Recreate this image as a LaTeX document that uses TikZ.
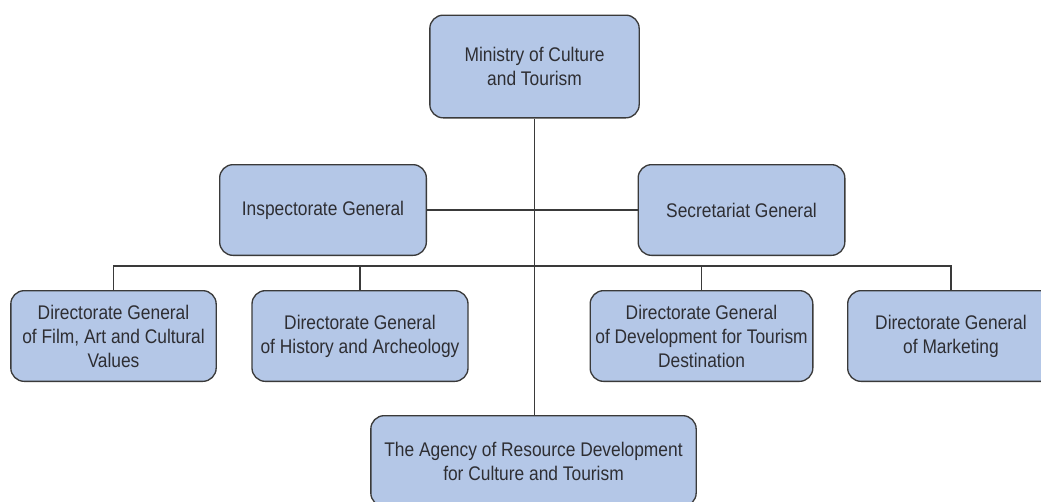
\documentclass[tikz,border=0pt]{standalone}
\usepackage{fontspec}
\setsansfont{Liberation Sans}[FakeStretch=0.88]
\usepackage{tikz}
\usetikzlibrary{positioning,calc}
\definecolor{boxfill}{HTML}{B4C7E7}
\definecolor{edge}{HTML}{3A3A3A}
\definecolor{ink}{HTML}{2E2E33}
\tikzset{
  font=\sffamily\fontsize{14.8}{18}\selectfont,
  unit/.style={
    rounded corners=10pt, draw=edge, line width=1pt, fill=boxfill,
    text=ink, align=center, inner sep=3pt
  },
  link/.style={draw=edge, line width=0.9pt}
}

\begin{document}
\begin{tikzpicture}[x=0.75pt,y=-0.75pt]
  \useasboundingbox (0,0) rectangle (1041,501);

  \node[unit, minimum width=157pt, minimum height=77pt] (min)  at (534.5,66.5) {Ministry of Culture\\and Tourism};
  \node[unit, minimum width=155pt, minimum height=68pt] (insp) at (323,210)    {Inspectorate General};
  \node[unit, minimum width=155pt, minimum height=68pt] (sec)  at (741.5,210)  {Secretariat General};

  \node[unit, minimum width=154pt, minimum height=68pt] (film) at (113.5,336)  {Directorate General\\of Film, Art and Cultural\\Values};
  \node[unit, minimum width=162pt, minimum height=68pt] (hist) at (360,336)    {Directorate General\\of History and Archeology};
  \node[unit, minimum width=167pt, minimum height=68pt] (dev)  at (701.5,336)  {Directorate General\\of Development for Tourism\\Destination};
  \node[unit, minimum width=155pt, minimum height=68pt] (mkt)  at (951,336)    {Directorate General\\of Marketing};
  \node[unit, minimum width=244pt, minimum height=68pt] (agcy) at (533.5,461)  {The Agency of Resource Development\\for Culture and Tourism};

  \coordinate (bus) at (534,266);

  \draw[link] (min.south) -- (min.south |- agcy.north);
  \draw[link] (insp) -- (sec);
  \draw[link] (film.north) -- (film.north |- bus) -| (mkt.north);
  \draw[link] (hist.north) -- (hist.north |- bus);
  \draw[link] (dev.north)  -- (dev.north |- bus);
\end{tikzpicture}
\end{document}
